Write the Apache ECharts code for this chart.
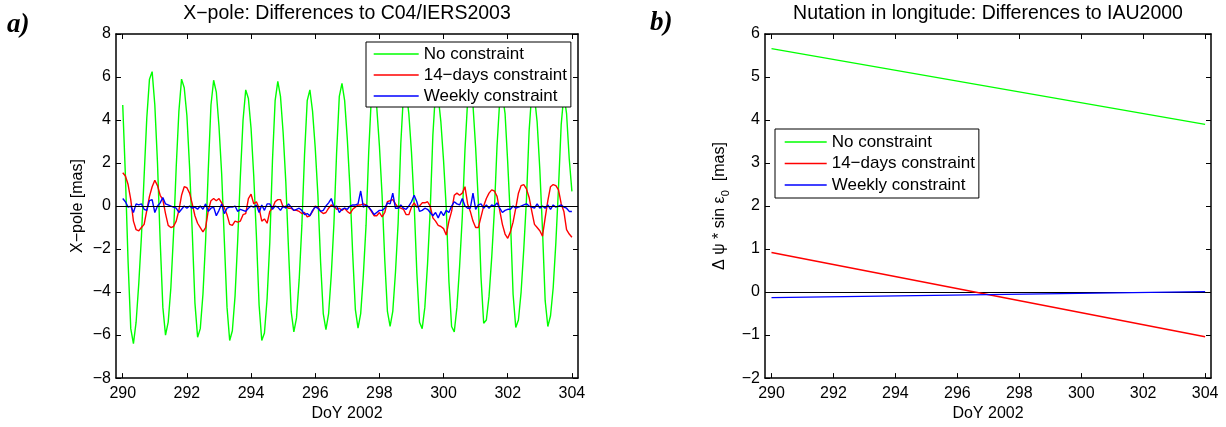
<!DOCTYPE html>
<html><head><meta charset="utf-8">
<script src="https://cdn.jsdelivr.net/npm/echarts@6/dist/echarts.min.js"></script>
<style>html,body{margin:0;padding:0;background:#fff}#c{width:1226px;height:427px}</style>
</head><body><div id="c"></div>
<script>
// ---------- data ----------
const xTicks = [290, 292, 294, 296, 298, 300, 302, 304];
const xpoleStart = 290;          // first epoch (DoY)
const xpoleStep = 1 / 12;        // 2-hour sampling
const seriesNames = ['No constraint', '14\u2212days constraint', 'Weekly constraint'];

// panel a) X-pole differences [mas], one value every 2 h from DoY 290.0 to 304.0
const noConstraintX = [
  4.7, 1.4, -2.6, -5.7, -6.4, -5.4, -3.6, -1.4, 1.4, 4.1, 5.9, 6.25,
  4.7, 2.0, -1.6, -4.7, -6.0, -5.4, -3.8, -1.3, 1.8, 4.4, 5.9, 5.5,
  4.2, 1.8, -1.2, -4.5, -6.1, -5.7, -4.1, -1.6, 1.7, 4.7, 5.85, 5.3,
  3.7, 1.5, -1.6, -4.7, -6.25, -5.8, -4.2, -1.6, 1.4, 4.0, 5.4, 5.0,
  3.6, 1.4, -1.4, -4.6, -6.25, -5.9, -4.3, -1.7, 2.1, 4.9, 5.8, 5.1,
  3.4, 1.1, -2.0, -4.9, -5.85, -5.2, -3.4, -0.9, 2.4, 4.9, 5.4, 4.4,
  2.7, 0.5, -2.6, -5.0, -5.75, -5.0, -3.2, -0.8, 2.5, 5.1, 5.7, 4.9,
  3.1, 0.8, -2.2, -4.8, -5.68, -5.0, -3.2, -0.9, 2.5, 5.1, 5.55, 4.6,
  2.8, 0.5, -2.5, -4.9, -5.6, -4.9, -3.1, -0.8, 2.9, 5.2, 5.4, 4.3,
  2.5, 0.1, -3.1, -5.4, -5.7, -4.7, -2.7, -0.2, 3.3, 5.35, 5.1, 3.9,
  2.1, -0.1, -3.5, -5.6, -5.85, -4.7, -2.8, -0.5, 2.6, 4.9, 5.45, 4.7,
  2.7, 0.2, -3.3, -5.45, -5.3, -4.2, -2.4, -0.2, 2.8, 4.9, 5.2, 4.3,
  2.0, -0.6, -4.1, -5.65, -5.3, -4.0, -2.0, 0.3, 3.5, 5.3, 5.1, 3.9,
  1.7, -1.1, -4.4, -5.6, -5.1, -3.8, -1.7, 0.9, 3.8, 5.2, 4.3, 2.2,
  0.68
];
const days14X = [
  1.55, 1.4, 1.0, 0.3, -0.7, -1.1, -1.15, -1.0, -0.85, -0.2, 0.45, 0.9,
  1.2, 0.95, 0.5, 0.3, -0.35, -0.9, -1.0, -0.95, -0.7, -0.2, 0.5, 0.9,
  0.85, 0.6, 0.1, -0.45, -0.8, -1.0, -1.2, -1.0, -0.2, 0.25, 0.35, 0.25,
  0.35, 0.15, -0.08, -0.4, -0.85, -0.9, -0.7, -0.75, -0.7, -0.4, -0.35, 0.35,
  0.55, 0.1, 0.2, -0.1, -0.7, -0.6, -0.8, -0.25, -0.1, 0.2, 0.3, 0.3,
  -0.05, 0.0, -0.1, -0.1, -0.2, -0.2, -0.25, -0.35, -0.3, -0.5, -0.45, -0.25,
  0.0, -0.05, -0.25, -0.35, -0.3, -0.1, 0.05, 0.0, -0.15, -0.1, -0.2, -0.1,
  -0.25, -0.35, -0.15, -0.05, 0.05, 0.05, 0.1, 0.05, -0.05, -0.25, -0.45, -0.45,
  -0.3, -0.5, -0.3, 0.2, 0.25, 0.3, 0.1, -0.05, -0.1, -0.15, -0.4, -0.4,
  -0.05, 0.15, -0.05, 0.0, 0.15, 0.15, 0.2, 0.0, -0.55, -0.7, -0.9, -0.95,
  -1.05, -1.35, -0.7, -0.25, 0.5, 0.6, 0.5, 0.6, 0.9, 0.1, -0.25, -0.7,
  -1.0, -1.0, -0.5, 0.0, 0.35, 0.6, 0.75, 0.7, 0.45, -0.2, -0.85, -1.3,
  -1.5, -1.2, -0.75, -0.1, 0.6, 0.95, 1.0, 0.8, 0.4, -0.25, -0.85, -1.0,
  -1.15, -1.4, -0.55, 0.25, 0.9, 1.0, 0.95, 0.75, 0.1, -0.25, -1.1, -1.3,
  -1.45
];
const weeklyX = [
  0.35, 0.2, -0.05, 0.0, -0.3, 0.1, 0.05, 0.1, -0.15, -0.2, 0.25, 0.3,
  -0.3, 0.0, 0.15, 0.4, 0.1, 0.05, 0.0, -0.05, -0.1, -0.3, -0.15, 0.0,
  -0.1, 0.0, -0.1, -0.05, -0.15, 0.0, -0.15, 0.1, -0.25, -0.1, -0.05, -0.45,
  -0.2, 0.1, -0.35, -0.1, -0.05, -0.05, 0.0, -0.25, -0.15, -0.2, -0.25, -0.1,
  0.0, -0.05, 0.05, -0.3, 0.05, -0.2, 0.1, 0.1, -0.15, 0.0, -0.05, -0.2,
  0.0, -0.1, 0.1, -0.05, -0.2, -0.15, -0.1, -0.2, -0.4, -0.35, -0.45, -0.2,
  -0.05, -0.1, -0.25, -0.2, 0.0, 0.15, 0.35, -0.05, 0.0, -0.3, -0.15, -0.1,
  -0.15, 0.0, 0.05, 0.05, 0.1, 0.7, -0.05, 0.05, -0.05, -0.2, -0.4, -0.3,
  -0.2, -0.2, -0.1, 0.15, 0.1, 0.6, -0.1, -0.1, 0.05, -0.1, -0.15, 0.0,
  0.2, 0.5, 0.2, -0.25, -0.2, -0.1, -0.15, -0.3, -0.45, -0.3, -0.55, -0.25,
  -0.45, -0.2, -0.3, 0.0, 0.2, 0.1, 0.05, 0.35, 0.0, -0.1, -0.1, 0.6,
  -0.15, 0.05, 0.1, -0.1, 0.05, -0.1, 0.05, 0.0, 0.15, -0.1, -0.3, -0.2,
  -0.15, -0.15, 0.0, -0.1, -0.05, 0.0, 0.05, 0.1, 0.0, -0.05, -0.1, 0.1,
  -0.1, 0.0, -0.1, 0.05, -0.15, 0.05, -0.05, 0.0, 0.05, -0.05, -0.1, -0.25,
  -0.25
];

// panel b) nutation in longitude, Δψ·sin ε0 [mas]
const nutDays = [290, 304];
const noConstraintNut = [5.66, 3.90];
const days14Nut = [0.92, -1.04];
const weeklyNut = [-0.13, 0.01];

// ---------- chart ----------
const FONT = '"Liberation Sans", Arial, Helvetica, sans-serif';
const XMIN = 289.79, XMAX = 304.19;
const colors = ['#00ff00', '#ff0000', '#0000ff'];
const minus = v => String(v).replace('-', '\u2212');
const pairs = (xs, ys) => ys.map((v, i) => [xs[i], v]);
const xpoleDays = noConstraintX.map((_, i) => xpoleStart + i * xpoleStep);

function xAx(gi, pos, labels) {
  return {
    type: 'value', gridIndex: gi, position: pos, min: XMIN, max: XMAX,
    axisLine: { show: true, onZero: false, lineStyle: { color: '#000', width: 1.5 } },
    axisTick: { show: true, inside: true, length: 5, customValues: xTicks, lineStyle: { color: '#000', width: 1 } },
    axisLabel: { show: labels, customValues: xTicks, color: '#000', fontSize: 16, fontFamily: FONT, margin: 7, formatter: minus },
    splitLine: { show: false },
    name: labels ? 'DoY 2002' : '', nameLocation: 'middle', nameGap: 27,
    nameTextStyle: { color: '#000', fontSize: 16, fontFamily: FONT }
  };
}
function yAx(gi, pos, labels, min, max, step, name, nameGap, rich) {
  const o = {
    type: 'value', gridIndex: gi, position: pos, min, max, interval: step,
    axisLine: { show: true, onZero: false, lineStyle: { color: '#000', width: 1.5 } },
    axisTick: { show: true, inside: true, length: 5, lineStyle: { color: '#000', width: 1 } },
    axisLabel: { show: labels, color: '#000', fontSize: 16, fontFamily: FONT, margin: 5, formatter: minus },
    splitLine: { show: false },
    name: labels ? name : '', nameLocation: 'middle', nameGap: nameGap,
    nameTextStyle: { color: '#000', fontSize: 16, fontFamily: FONT }
  };
  if (rich) o.nameTextStyle.rich = rich;
  return o;
}
function line(name, xi, yi, data, color, z) {
  return {
    type: 'line', name, xAxisIndex: xi, yAxisIndex: yi, data, z,
    symbol: 'none', showSymbol: false, smooth: false, animation: false,
    lineStyle: { color, width: 1.4 }, itemStyle: { color },
    emphasis: { disabled: true }, silent: true
  };
}
const zeroLine = z => ({ silent: true, z, symbol: ['none', 'none'], label: { show: false },
  lineStyle: { color: '#000', width: 1.2, type: 'solid' }, data: [{ yAxis: 0 }], animation: false });

function legend(left, top, itemWidth, padding, gap) {
  return {
    data: seriesNames, orient: 'vertical', left, top, itemWidth, itemHeight: 14, itemGap: gap,
    padding, backgroundColor: '#fff', borderColor: '#000', borderWidth: 1, borderRadius: 0,
    selectedMode: false,
    itemStyle: { opacity: 0, color: 'rgba(0,0,0,0)', borderWidth: 0 },
    lineStyle: { width: 1.4 },
    textStyle: { fontSize: 17, lineHeight: 20, color: '#000', fontFamily: FONT }
  };
}

const chart = echarts.init(document.getElementById('c'), null, { renderer: 'canvas' });
const s0 = line(seriesNames[0], 0, 0, pairs(xpoleDays, noConstraintX), colors[0], 2);
const s1 = line(seriesNames[1], 0, 0, pairs(xpoleDays, days14X), colors[1], 3);
const s2 = line(seriesNames[2], 0, 0, pairs(xpoleDays, weeklyX), colors[2], 4);
s2.markLine = zeroLine(5);
const n0 = line(seriesNames[0], 2, 2, pairs(nutDays, noConstraintNut), colors[0], 3);
const n1 = line(seriesNames[1], 2, 2, pairs(nutDays, days14Nut), colors[1], 3);
const n2 = line(seriesNames[2], 2, 2, pairs(nutDays, weeklyNut), colors[2], 4);
const z2 = line('zero', 2, 2, [], '#000', 1);
z2.markLine = zeroLine(1);

chart.setOption({
  animation: false,
  backgroundColor: '#fff',
  grid: [
    { left: 116, top: 34, width: 462, height: 352 },
    { left: 765, top: 34, width: 446, height: 352 }
  ],
  xAxis: [xAx(0, 'bottom', true), xAx(0, 'top', false), xAx(1, 'bottom', true), xAx(1, 'top', false)],
  yAxis: [
    yAx(0, 'left', true, -8, 8, 2, 'X\u2212pole [mas]', 30),
    yAx(0, 'right', false, -8, 8, 2, '', 0),
    yAx(1, 'left', true, -2, 6, 1, '{a|\u0394 \u03C8 * sin \u03B5}{s|0}{a|  [mas]}', 34, {
      a: { fontSize: 16, fontFamily: FONT, color: '#000', lineHeight: 22, verticalAlign: 'middle' },
      s: { fontSize: 11, fontFamily: FONT, color: '#000', lineHeight: 11, verticalAlign: 'bottom' }
    }),
    yAx(1, 'right', false, -2, 6, 1, '', 0)
  ],
  legend: [
    legend(366, 42, 45, [2, 4, 1, 7], 1),
    legend(775, 129, 42, [3, 4, 3, 9], 1.5)
  ],
  graphic: [
    { type: 'text', x: 347, y: 14, style: { text: 'X\u2212pole: Differences to C04/IERS2003', fill: '#000',
      font: '19.5px ' + FONT, align: 'center', verticalAlign: 'middle' } },
    { type: 'text', x: 988, y: 14, style: { text: 'Nutation in longitude: Differences to IAU2000', fill: '#000',
      font: '19.5px ' + FONT, align: 'center', verticalAlign: 'middle' } },
    { type: 'text', x: 7, y: 25, style: { text: 'a)', fill: '#000',
      font: 'italic bold 27px "Liberation Serif", "Times New Roman", serif', align: 'left', verticalAlign: 'middle' } },
    { type: 'text', x: 650, y: 23, style: { text: 'b)', fill: '#000',
      font: 'italic bold 27px "Liberation Serif", "Times New Roman", serif', align: 'left', verticalAlign: 'middle' } }
  ],
  series: [s0, s1, s2, z2, n0, n1, n2]
});
</script>
</body></html>
